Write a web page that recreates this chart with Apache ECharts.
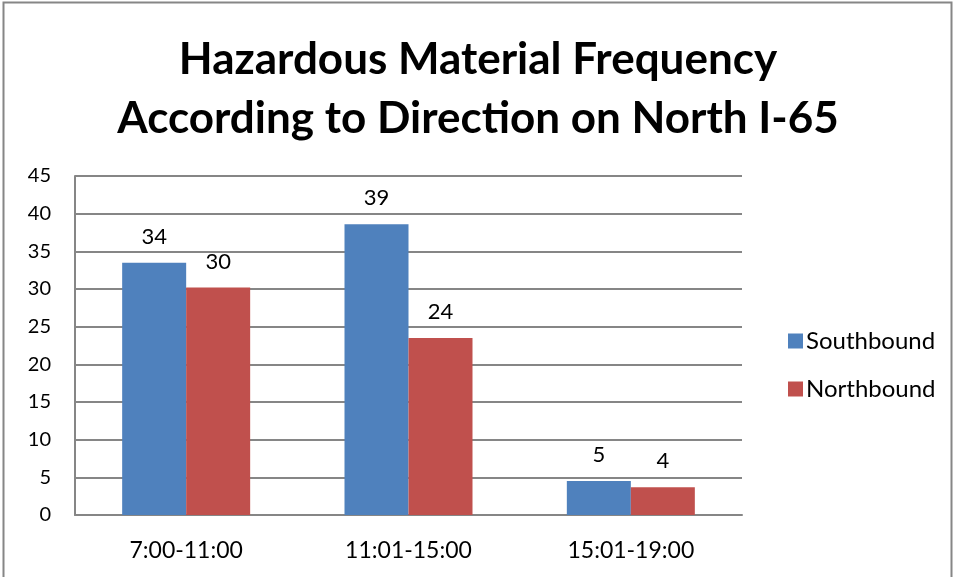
<!DOCTYPE html>
<html><head><meta charset="utf-8">
<script src="https://cdn.jsdelivr.net/npm/echarts@6/dist/echarts.min.js"></script>
<style>html,body{margin:0;padding:0;background:#fff}#c{width:956px;height:577px}</style>
</head><body><div id="c"></div>
<script>
const categories = ['7:00-11:00', '11:01-15:00', '15:01-19:00'];
const southbound = [33.5, 38.6, 4.5];
const northbound = [30.2, 23.5, 3.7];
const southLabels = [34, 39, 5];
const northLabels = [30, 24, 4];
const yTicks = [0, 5, 10, 15, 20, 25, 30, 35, 40, 45];

const FONT = 'Lato, "Open Sans", sans-serif';
const chart = echarts.init(document.getElementById('c'), null, {renderer: 'canvas'});
chart.setOption({
  animation: false,
  backgroundColor: '#fff',
  title: {
    text: 'Hazardous Material Frequency\nAccording to Direction on North I-65',
    left: 'center', top: 25,
    textStyle: {fontFamily: FONT, fontWeight: 'bold', fontSize: 44, lineHeight: 59, color: '#000'}
  },
  legend: {
    orient: 'vertical', left: 783, top: 324, itemGap: 24,
    itemWidth: 15, itemHeight: 15, icon: 'rect',
    textStyle: {fontFamily: FONT, fontSize: 24, color: '#000', padding: [0,0,0,-2]},
    data: ['Southbound', 'Northbound']
  },
  grid: {left: 75, right: 214, top: 176, bottom: 62, containLabel: false},
  xAxis: {
    type: 'category', data: categories,
    axisLine: {lineStyle: {color: '#868686', width: 2}},
    axisTick: {show: false},
    axisLabel: {fontFamily: FONT, fontSize: 23, color: '#000', margin: 24}
  },
  yAxis: {
    type: 'value', min: yTicks[0], max: yTicks[yTicks.length-1], interval: 5,
    axisLine: {show: true, lineStyle: {color: '#868686', width: 2}},
    axisTick: {show: false},
    splitLine: {lineStyle: {color: '#868686', width: 2}},
    axisLabel: {fontFamily: FONT, fontSize: 20, color: '#000', margin: 24}
  },
  series: [
    {name: 'Southbound', type: 'bar', data: southbound, barWidth: 64, barGap: '0%',
     itemStyle: {color: '#4F81BD'},
     label: {show: true, position: 'top', distance: 15, fontFamily: FONT, fontSize: 22, color: '#000',
       formatter: p => String(southLabels[p.dataIndex])}},
    {name: 'Northbound', type: 'bar', data: northbound, barWidth: 64, barGap: '0%',
     itemStyle: {color: '#C0504D'},
     label: {show: true, position: 'top', distance: 15, fontFamily: FONT, fontSize: 22, color: '#000',
       formatter: p => String(northLabels[p.dataIndex])}}
  ],
  graphic: [{type: 'rect', shape: {x: 3.5, y: 2.5, width: 948, height: 580}, style: {fill: 'none', stroke: '#868686', lineWidth: 2}, silent: true}]
});
</script></body></html>
